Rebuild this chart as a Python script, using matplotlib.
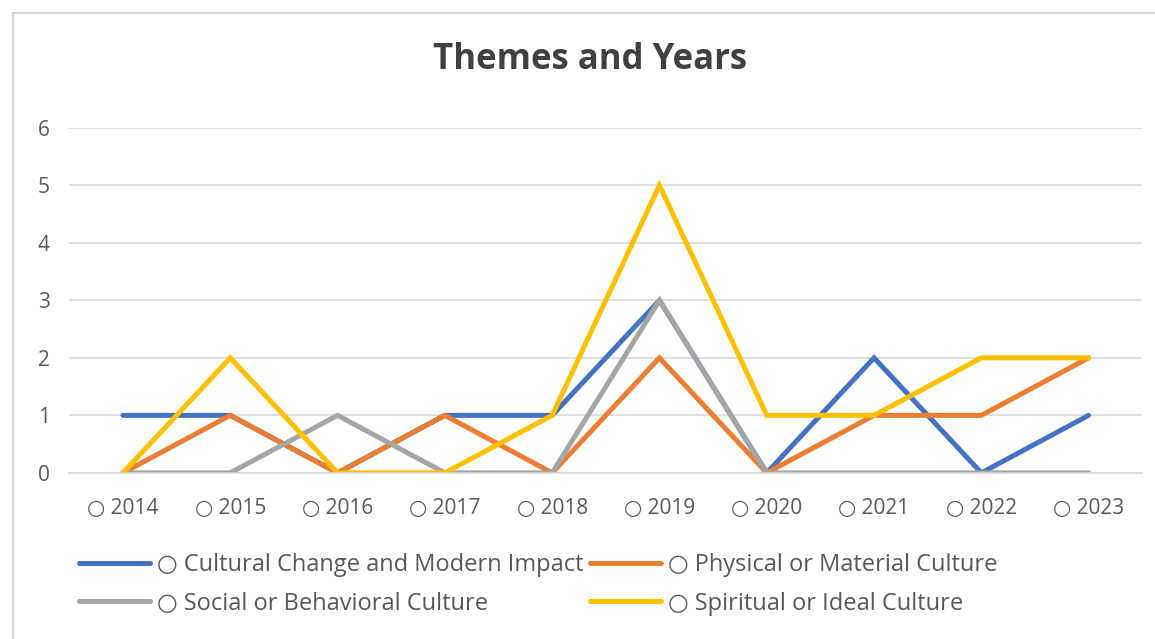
import matplotlib.pyplot as plt
from matplotlib.patches import Rectangle

plt.rcParams['font.family'] = ['Open Sans', 'DejaVu Sans']

years = ['2014', '2015', '2016', '2017', '2018', '2019', '2020', '2021', '2022', '2023']
cultural_change = [1, 1, 0, 1, 1, 3, 0, 2, 0, 1]
physical = [0, 1, 0, 1, 0, 2, 0, 1, 1, 2]
social = [0, 0, 1, 0, 0, 3, 0, 0, 0, 0]
spiritual = [0, 2, 0, 0, 1, 5, 1, 1, 2, 2]

series = [
    ('○ Cultural Change and Modern Impact', cultural_change, '#4472C4'),
    ('○ Physical or Material Culture', physical, '#ED7D31'),
    ('○ Social or Behavioral Culture', social, '#A5A5A5'),
    ('○ Spiritual or Ideal Culture', spiritual, '#FFC000'),
]

fig = plt.figure(figsize=(11.55, 6.39), dpi=100)
ax = fig.add_axes([0.060, 0.260, 0.929, 0.540])

x = list(range(len(years)))
lines = []
for name, vals, col in series:
    ln, = ax.plot(x, vals, color=col, lw=3.6, label=name, solid_capstyle='round', solid_joinstyle='miter')
    lines.append(ln)

ax.set_xlim(-0.5, len(years) - 0.5)
ax.set_ylim(0, 6)
ax.set_yticks(range(0, 7))
ax.set_xticks(x)
ax.set_xticklabels(['○ ' + y for y in years])
ax.grid(axis='y', color='#D9D9D9', lw=1.2)
ax.set_axisbelow(True)
for s in ['top', 'right', 'left']:
    ax.spines[s].set_visible(False)
ax.spines['bottom'].set_color('#D9D9D9')
ax.spines['bottom'].set_linewidth(1.2)
ax.tick_params(length=0, labelsize=15, labelcolor='#595959')
ax.tick_params(axis='x', pad=18)
ax.tick_params(axis='y', pad=14)

fig.suptitle('Themes and Years', x=0.511, y=0.935, fontsize=25, fontweight='bold', color='#404040')

# row-wise legend order: blue, orange / gray, yellow
order = [0, 2, 1, 3]
leg = ax.legend([lines[i] for i in order], [series[i][0] for i in order],
                loc='upper left', bbox_to_anchor=(0.0, -0.205), ncol=2, frameon=False,
                fontsize=17, handlelength=3.0, handletextpad=0.3, columnspacing=0.3,
                labelcolor='#595959', borderaxespad=0, labelspacing=0.62)

fig.patches.append(Rectangle((0.011, -0.01), 1.0, 0.99, transform=fig.transFigure,
                             fill=False, edgecolor='#D9D9D9', lw=1.5))

fig.savefig('out.png', dpi=100)
